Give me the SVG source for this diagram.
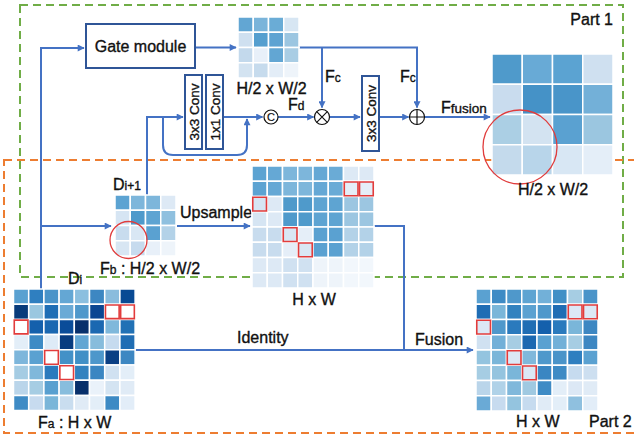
<svg xmlns="http://www.w3.org/2000/svg" width="634" height="439" viewBox="0 0 634 439">
<style>
text{font-family:"Liberation Sans",Arial,sans-serif;font-size:16px;fill:#111;stroke:#111;stroke-width:0.35px}
.sub{font-size:12px}
.grid rect{stroke:#fff;stroke-width:1.5px;vector-effect:non-scaling-stroke}
.grid rect.r{stroke:#e23c3c;stroke-width:1.6px}
.ln{fill:none;stroke:#4472c4;stroke-width:2}
.box{fill:#fff;stroke:#2f5597;stroke-width:2}
.op{fill:#fff;stroke:#111;stroke-width:1.2}
</style>
<defs>
<marker id="ah" viewBox="0 0 10 10" refX="9" refY="5" markerWidth="8" markerHeight="7" markerUnits="userSpaceOnUse" orient="auto">
<path d="M0,0 L10,5 L0,10 z" fill="#4472c4"/>
</marker>
</defs>
<rect width="634" height="439" fill="#fff"/>
<rect id="part1" x="20" y="5" width="603" height="272" fill="none" stroke="#70ad47" stroke-width="2" stroke-dasharray="8,5"/>
<rect id="part2" x="4" y="160" width="640" height="273" fill="none" stroke="#ed7d31" stroke-width="2" stroke-dasharray="8,5"/>
<text x="613" y="25" text-anchor="end">Part 1</text>
<text x="589" y="427">Part 2</text>

<g id="connectors">
<path class="ln" d="M41,289 V48 H84" marker-end="url(#ah)"/>
<path class="ln" d="M41,226 H111" marker-end="url(#ah)"/>
<path class="ln" d="M195,47.5 H236" marker-end="url(#ah)"/>
<path class="ln" d="M299,47.5 H417 V107.5" marker-end="url(#ah)"/>
<path class="ln" d="M322,47.5 V107.5" marker-end="url(#ah)"/>
<path class="ln" d="M147,195 V117 H183" marker-end="url(#ah)"/>
<path class="ln" d="M163,117 V145 Q163,155 173,155 H237 Q247,155 247,145 V119" marker-end="url(#ah)"/>
<path class="ln" d="M224,117 H262.5" marker-end="url(#ah)"/>
<path class="ln" d="M278,117 H313.5" marker-end="url(#ah)"/>
<path class="ln" d="M330,117 H360" marker-end="url(#ah)"/>
<path class="ln" d="M379,117 H408.5" marker-end="url(#ah)"/>
<path class="ln" d="M425,117 H490" marker-end="url(#ah)"/>
<path class="ln" d="M177,226 H250" marker-end="url(#ah)"/>
<path class="ln" d="M374,226 H404 V350"/>
<path class="ln" d="M135,350 H473" marker-end="url(#ah)"/>
</g>

<g id="gate-module">
<rect class="box" x="86" y="24" width="109" height="44"/>
<text x="140.5" y="51.5" text-anchor="middle">Gate module</text>
</g>

<g id="gate-output">
<g class="grid" transform="translate(238,17) scale(15.25)">
<rect x="0" y="0" width="1" height="1" fill="#62a6d3"/><rect x="1" y="0" width="1" height="1" fill="#7ab4da"/><rect x="2" y="0" width="1" height="1" fill="#6aacd6"/><rect x="3" y="0" width="1" height="1" fill="#d7e6f3"/>
<rect x="0" y="1" width="1" height="1" fill="#cfe0f0"/><rect x="1" y="1" width="1" height="1" fill="#559fcf"/><rect x="2" y="1" width="1" height="1" fill="#5ea3d2"/><rect x="3" y="1" width="1" height="1" fill="#9cc6e1"/>
<rect x="0" y="2" width="1" height="1" fill="#c3d9ec"/><rect x="1" y="2" width="1" height="1" fill="#e8f0f9"/><rect x="2" y="2" width="1" height="1" fill="#62a6d3"/><rect x="3" y="2" width="1" height="1" fill="#a9cde4"/>
<rect x="0" y="3" width="1" height="1" fill="#d3e3f1"/><rect x="1" y="3" width="1" height="1" fill="#c6dbed"/><rect x="2" y="3" width="1" height="1" fill="#e3edf7"/><rect x="3" y="3" width="1" height="1" fill="#eef4fa"/>
</g>
<text x="271.5" y="94" text-anchor="middle">H/2 x W/2</text>
</g>

<g id="conv3x3-a">
<rect class="box" x="185" y="75" width="17" height="74"/>
<text transform="translate(198.5,112) rotate(-90)" text-anchor="middle" style="font-size:13.5px">3x3 Conv</text>
</g>
<g id="conv1x1">
<rect class="box" x="206" y="75" width="17" height="74"/>
<text transform="translate(219.5,112) rotate(-90)" text-anchor="middle" style="font-size:13.5px">1x1 Conv</text>
</g>

<g id="concat">
<circle class="op" cx="271" cy="117" r="7"/>
<text x="271" y="121" text-anchor="middle" style="font-size:11px;stroke-width:0.2px">C</text>
</g>
<text x="288" y="110">F<tspan class="sub">d</tspan></text>

<g id="multiply">
<circle class="op" cx="322" cy="117" r="7.5"/>
<path d="M316.7,111.7 L327.3,122.3 M327.3,111.7 L316.7,122.3" stroke="#111" stroke-width="1.2"/>
</g>
<text x="325" y="82">F<tspan class="sub">c</tspan></text>

<g id="conv3x3-b">
<rect class="box" x="362" y="76" width="17" height="75"/>
<text transform="translate(375.5,113.5) rotate(-90)" text-anchor="middle" style="font-size:13.5px">3x3 Conv</text>
</g>

<g id="add">
<circle class="op" cx="417" cy="117" r="7.5"/>
<path d="M409.5,117 H424.5 M417,109.5 V124.5" stroke="#111" stroke-width="1.2"/>
</g>
<text x="400" y="82">F<tspan class="sub">c</tspan></text>
<text x="441" y="113">F<tspan style="font-size:13.5px">fusion</tspan></text>

<g id="fusion-output">
<g class="grid" transform="translate(492,54) scale(30.25)">
<rect x="0" y="0" width="1" height="1" fill="#4f9acb"/><rect x="1" y="0" width="1" height="1" fill="#68aad6"/><rect x="2" y="0" width="1" height="1" fill="#5ba3d2"/><rect x="3" y="0" width="1" height="1" fill="#cfe0f0"/>
<rect x="0" y="1" width="1" height="1" fill="#c9dcee"/><rect x="1" y="1" width="1" height="1" fill="#4592c7"/><rect x="2" y="1" width="1" height="1" fill="#4995c9"/><rect x="3" y="1" width="1" height="1" fill="#73b0d8"/>
<rect x="0" y="2" width="1" height="1" fill="#abcfe4"/><rect x="1" y="2" width="1" height="1" fill="#d3e3f1"/><rect x="2" y="2" width="1" height="1" fill="#5aa1d1"/><rect x="3" y="2" width="1" height="1" fill="#9bc6e0"/>
<rect x="0" y="3" width="1" height="1" fill="#c4daec"/><rect x="1" y="3" width="1" height="1" fill="#b8d5ea"/><rect x="2" y="3" width="1" height="1" fill="#d8e7f4"/><rect x="3" y="3" width="1" height="1" fill="#e4eef8"/>
</g>
<circle cx="520" cy="147" r="37" fill="none" stroke="#e03c3c" stroke-width="1.3"/>
<text x="553" y="195" text-anchor="middle">H/2 x W/2</text>
</g>

<g id="Fb">
<text x="113" y="190">D<tspan class="sub">i+1</tspan></text>
<g class="grid" transform="translate(115,195) scale(15.25)">
<rect x="0" y="0" width="1" height="1" fill="#5ca3d2"/><rect x="1" y="0" width="1" height="1" fill="#7db6db"/><rect x="2" y="0" width="1" height="1" fill="#7db6db"/><rect x="3" y="0" width="1" height="1" fill="#dde9f5"/>
<rect x="0" y="1" width="1" height="1" fill="#d6e5f3"/><rect x="1" y="1" width="1" height="1" fill="#4f9acb"/><rect x="2" y="1" width="1" height="1" fill="#5ea4d2"/><rect x="3" y="1" width="1" height="1" fill="#8fc0df"/>
<rect x="0" y="2" width="1" height="1" fill="#c8dcee"/><rect x="1" y="2" width="1" height="1" fill="#d9e7f4"/><rect x="2" y="2" width="1" height="1" fill="#5aa1d1"/><rect x="3" y="2" width="1" height="1" fill="#b3d2e8"/>
<rect x="0" y="3" width="1" height="1" fill="#d8e6f3"/><rect x="1" y="3" width="1" height="1" fill="#c7dbee"/><rect x="2" y="3" width="1" height="1" fill="#e8f0f9"/><rect x="3" y="3" width="1" height="1" fill="#eef4fa"/>
</g>
<circle cx="128.5" cy="240" r="18.5" fill="none" stroke="#e03c3c" stroke-width="1.3"/>
<text x="100" y="274">F<tspan class="sub">b</tspan> : H/2 x W/2</text>
</g>
<text x="180" y="218">Upsample</text>

<g id="upsampled">
<g class="grid" transform="translate(252,166) scale(15.25)">
<rect x="0" y="0" width="1" height="1" fill="#5ca3d2"/><rect x="1" y="0" width="1" height="1" fill="#65a8d5"/><rect x="2" y="0" width="1" height="1" fill="#7db6db"/><rect x="3" y="0" width="1" height="1" fill="#7db6db"/><rect x="4" y="0" width="1" height="1" fill="#65a8d5"/><rect x="5" y="0" width="1" height="1" fill="#6aabd6"/><rect x="6" y="0" width="1" height="1" fill="#dde9f5"/><rect x="7" y="0" width="1" height="1" fill="#dde9f5"/>
<rect x="0" y="1" width="1" height="1" fill="#5ca3d2"/><rect x="1" y="1" width="1" height="1" fill="#65a8d5"/><rect x="2" y="1" width="1" height="1" fill="#7db6db"/><rect x="3" y="1" width="1" height="1" fill="#7db6db"/><rect x="4" y="1" width="1" height="1" fill="#65a8d5"/><rect x="5" y="1" width="1" height="1" fill="#6aabd6"/><rect x="6" y="1" width="1" height="1" fill="#e5eef8"/><rect x="7" y="1" width="1" height="1" fill="#e5eef8"/>
<rect x="0" y="2" width="1" height="1" fill="#d6e5f3"/><rect x="1" y="2" width="1" height="1" fill="#dde9f5"/><rect x="2" y="2" width="1" height="1" fill="#4f9acb"/><rect x="3" y="2" width="1" height="1" fill="#4f9acb"/><rect x="4" y="2" width="1" height="1" fill="#5ea4d2"/><rect x="5" y="2" width="1" height="1" fill="#5ea4d2"/><rect x="6" y="2" width="1" height="1" fill="#9cc6e1"/><rect x="7" y="2" width="1" height="1" fill="#9cc6e1"/>
<rect x="0" y="3" width="1" height="1" fill="#d6e5f3"/><rect x="1" y="3" width="1" height="1" fill="#dde9f5"/><rect x="2" y="3" width="1" height="1" fill="#4f9acb"/><rect x="3" y="3" width="1" height="1" fill="#4f9acb"/><rect x="4" y="3" width="1" height="1" fill="#5ea4d2"/><rect x="5" y="3" width="1" height="1" fill="#5ea4d2"/><rect x="6" y="3" width="1" height="1" fill="#9cc6e1"/><rect x="7" y="3" width="1" height="1" fill="#9cc6e1"/>
<rect x="0" y="4" width="1" height="1" fill="#c8dcee"/><rect x="1" y="4" width="1" height="1" fill="#c8dcee"/><rect x="2" y="4" width="1" height="1" fill="#d9e7f4"/><rect x="3" y="4" width="1" height="1" fill="#e5eef8"/><rect x="4" y="4" width="1" height="1" fill="#5aa1d1"/><rect x="5" y="4" width="1" height="1" fill="#5aa1d1"/><rect x="6" y="4" width="1" height="1" fill="#b3d2e8"/><rect x="7" y="4" width="1" height="1" fill="#b3d2e8"/>
<rect x="0" y="5" width="1" height="1" fill="#c8dcee"/><rect x="1" y="5" width="1" height="1" fill="#c8dcee"/><rect x="2" y="5" width="1" height="1" fill="#e5eef8"/><rect x="3" y="5" width="1" height="1" fill="#d9e7f4"/><rect x="4" y="5" width="1" height="1" fill="#5aa1d1"/><rect x="5" y="5" width="1" height="1" fill="#5aa1d1"/><rect x="6" y="5" width="1" height="1" fill="#b3d2e8"/><rect x="7" y="5" width="1" height="1" fill="#b3d2e8"/>
<rect x="0" y="6" width="1" height="1" fill="#dde9f5"/><rect x="1" y="6" width="1" height="1" fill="#dde9f5"/><rect x="2" y="6" width="1" height="1" fill="#d0e1f1"/><rect x="3" y="6" width="1" height="1" fill="#d0e1f1"/><rect x="4" y="6" width="1" height="1" fill="#eef4fa"/><rect x="5" y="6" width="1" height="1" fill="#eef4fa"/><rect x="6" y="6" width="1" height="1" fill="#f2f7fc"/><rect x="7" y="6" width="1" height="1" fill="#f2f7fc"/>
<rect x="0" y="7" width="1" height="1" fill="#dde9f5"/><rect x="1" y="7" width="1" height="1" fill="#dde9f5"/><rect x="2" y="7" width="1" height="1" fill="#d0e1f1"/><rect x="3" y="7" width="1" height="1" fill="#d0e1f1"/><rect x="4" y="7" width="1" height="1" fill="#eef4fa"/><rect x="5" y="7" width="1" height="1" fill="#eef4fa"/><rect x="6" y="7" width="1" height="1" fill="#f2f7fc"/><rect x="7" y="7" width="1" height="1" fill="#f2f7fc"/>
<rect class="r" x="6.05" y="1.05" width="0.9" height="0.9" fill="#e5eef8"/><rect class="r" x="7.05" y="1.05" width="0.9" height="0.9" fill="#e5eef8"/><rect class="r" x="0.05" y="2.05" width="0.9" height="0.9" fill="#d6e5f3"/><rect class="r" x="2.05" y="4.05" width="0.9" height="0.9" fill="#d9e7f4"/><rect class="r" x="3.05" y="5.05" width="0.9" height="0.9" fill="#d9e7f4"/>
</g>
<text x="314" y="305" text-anchor="middle">H x W</text>
</g>

<g id="Fa">
<text x="68" y="284">D<tspan class="sub">i</tspan></text>
<g class="grid" transform="translate(13.5,289) scale(15.2)">
<rect x="0" y="0" width="1" height="1" fill="#5aa1d1"/><rect x="1" y="0" width="1" height="1" fill="#2f7fc0"/><rect x="2" y="0" width="1" height="1" fill="#4a94c9"/><rect x="3" y="0" width="1" height="1" fill="#64a7d4"/><rect x="4" y="0" width="1" height="1" fill="#8bbfdf"/><rect x="5" y="0" width="1" height="1" fill="#3d87c2"/><rect x="6" y="0" width="1" height="1" fill="#8abcdd"/><rect x="7" y="0" width="1" height="1" fill="#084a94"/>
<rect x="0" y="1" width="1" height="1" fill="#083b7b"/><rect x="1" y="1" width="1" height="1" fill="#9ac7e0"/><rect x="2" y="1" width="1" height="1" fill="#1f6eb5"/><rect x="3" y="1" width="1" height="1" fill="#6aaad6"/><rect x="4" y="1" width="1" height="1" fill="#4f98cb"/><rect x="5" y="1" width="1" height="1" fill="#0b4692"/><rect x="6" y="1" width="1" height="1" fill="#fff"/><rect x="7" y="1" width="1" height="1" fill="#fff"/>
<rect x="0" y="2" width="1" height="1" fill="#fff"/><rect x="1" y="2" width="1" height="1" fill="#1460ac"/><rect x="2" y="2" width="1" height="1" fill="#1b68b1"/><rect x="3" y="2" width="1" height="1" fill="#0a4c99"/><rect x="4" y="2" width="1" height="1" fill="#08306b"/><rect x="5" y="2" width="1" height="1" fill="#1b68b1"/><rect x="6" y="2" width="1" height="1" fill="#7fb8db"/><rect x="7" y="2" width="1" height="1" fill="#2171b5"/>
<rect x="0" y="3" width="1" height="1" fill="#e3eef8"/><rect x="1" y="3" width="1" height="1" fill="#3e8bc5"/><rect x="2" y="3" width="1" height="1" fill="#deebf7"/><rect x="3" y="3" width="1" height="1" fill="#083c80"/><rect x="4" y="3" width="1" height="1" fill="#63a6d3"/><rect x="5" y="3" width="1" height="1" fill="#87bcdc"/><rect x="6" y="3" width="1" height="1" fill="#c6dbef"/><rect x="7" y="3" width="1" height="1" fill="#1f6db4"/>
<rect x="0" y="4" width="1" height="1" fill="#7db6db"/><rect x="1" y="4" width="1" height="1" fill="#5aa1d1"/><rect x="2" y="4" width="1" height="1" fill="#fff"/><rect x="3" y="4" width="1" height="1" fill="#4391c7"/><rect x="4" y="4" width="1" height="1" fill="#4190c6"/><rect x="5" y="4" width="1" height="1" fill="#4d97cb"/><rect x="6" y="4" width="1" height="1" fill="#0a3f84"/><rect x="7" y="4" width="1" height="1" fill="#3d87c2"/>
<rect x="0" y="5" width="1" height="1" fill="#a5cce3"/><rect x="1" y="5" width="1" height="1" fill="#80b8db"/><rect x="2" y="5" width="1" height="1" fill="#2a7abd"/><rect x="3" y="5" width="1" height="1" fill="#fff"/><rect x="4" y="5" width="1" height="1" fill="#3282bf"/><rect x="5" y="5" width="1" height="1" fill="#3a86c2"/><rect x="6" y="5" width="1" height="1" fill="#d0e1f1"/><rect x="7" y="5" width="1" height="1" fill="#e3eef8"/>
<rect x="0" y="6" width="1" height="1" fill="#bad5ea"/><rect x="1" y="6" width="1" height="1" fill="#a6cde3"/><rect x="2" y="6" width="1" height="1" fill="#58a0d0"/><rect x="3" y="6" width="1" height="1" fill="#88bddd"/><rect x="4" y="6" width="1" height="1" fill="#08306b"/><rect x="5" y="6" width="1" height="1" fill="#eaf2fa"/><rect x="6" y="6" width="1" height="1" fill="#d4e4f2"/><rect x="7" y="6" width="1" height="1" fill="#e0ebf6"/>
<rect x="0" y="7" width="1" height="1" fill="#3e8bc5"/><rect x="1" y="7" width="1" height="1" fill="#c7dbef"/><rect x="2" y="7" width="1" height="1" fill="#7ab6d9"/><rect x="3" y="7" width="1" height="1" fill="#c9ddef"/><rect x="4" y="7" width="1" height="1" fill="#e0ebf6"/><rect x="5" y="7" width="1" height="1" fill="#e3eef8"/><rect x="6" y="7" width="1" height="1" fill="#3d8ac4"/><rect x="7" y="7" width="1" height="1" fill="#e2edf8"/>
<rect class="r" x="6.05" y="1.05" width="0.9" height="0.9" fill="#fff"/><rect class="r" x="7.05" y="1.05" width="0.9" height="0.9" fill="#fff"/><rect class="r" x="0.05" y="2.05" width="0.9" height="0.9" fill="#fff"/><rect class="r" x="2.05" y="4.05" width="0.9" height="0.9" fill="#fff"/><rect class="r" x="3.05" y="5.05" width="0.9" height="0.9" fill="#fff"/>
</g>
<text x="38" y="428">F<tspan class="sub">a</tspan> : H x W</text>
</g>
<text x="237" y="343">Identity</text>
<text x="415" y="345">Fusion</text>

<g id="fused">
<g class="grid" transform="translate(476,289) scale(15.25)">
<rect x="0" y="0" width="1" height="1" fill="#5aa1d1"/><rect x="1" y="0" width="1" height="1" fill="#3e8bc5"/><rect x="2" y="0" width="1" height="1" fill="#4f98cb"/><rect x="3" y="0" width="1" height="1" fill="#5ea4d2"/><rect x="4" y="0" width="1" height="1" fill="#72b0d8"/><rect x="5" y="0" width="1" height="1" fill="#4190c6"/><rect x="6" y="0" width="1" height="1" fill="#a6cde3"/><rect x="7" y="0" width="1" height="1" fill="#4a94c9"/>
<rect x="0" y="1" width="1" height="1" fill="#1f6db4"/><rect x="1" y="1" width="1" height="1" fill="#7ab6d9"/><rect x="2" y="1" width="1" height="1" fill="#3282bf"/><rect x="3" y="1" width="1" height="1" fill="#5aa1d1"/><rect x="4" y="1" width="1" height="1" fill="#4f98cb"/><rect x="5" y="1" width="1" height="1" fill="#1f6db4"/><rect x="6" y="1" width="1" height="1" fill="#dce8f5"/><rect x="7" y="1" width="1" height="1" fill="#dce8f5"/>
<rect x="0" y="2" width="1" height="1" fill="#dce8f5"/><rect x="1" y="2" width="1" height="1" fill="#4f98cb"/><rect x="2" y="2" width="1" height="1" fill="#2a7abd"/><rect x="3" y="2" width="1" height="1" fill="#1f6db4"/><rect x="4" y="2" width="1" height="1" fill="#1460ac"/><rect x="5" y="2" width="1" height="1" fill="#2a7abd"/><rect x="6" y="2" width="1" height="1" fill="#7ab6d9"/><rect x="7" y="2" width="1" height="1" fill="#3d87c2"/>
<rect x="0" y="3" width="1" height="1" fill="#d0e1f1"/><rect x="1" y="3" width="1" height="1" fill="#72b0d8"/><rect x="2" y="3" width="1" height="1" fill="#a6cde3"/><rect x="3" y="3" width="1" height="1" fill="#1b68b1"/><rect x="4" y="3" width="1" height="1" fill="#5aa1d1"/><rect x="5" y="3" width="1" height="1" fill="#72b0d8"/><rect x="6" y="3" width="1" height="1" fill="#a6cde3"/><rect x="7" y="3" width="1" height="1" fill="#3d87c2"/>
<rect x="0" y="4" width="1" height="1" fill="#94c4df"/><rect x="1" y="4" width="1" height="1" fill="#7ab6d9"/><rect x="2" y="4" width="1" height="1" fill="#dce8f5"/><rect x="3" y="4" width="1" height="1" fill="#80b8db"/><rect x="4" y="4" width="1" height="1" fill="#4f98cb"/><rect x="5" y="4" width="1" height="1" fill="#4a94c9"/><rect x="6" y="4" width="1" height="1" fill="#2f7fc0"/><rect x="7" y="4" width="1" height="1" fill="#5aa1d1"/>
<rect x="0" y="5" width="1" height="1" fill="#a6cde3"/><rect x="1" y="5" width="1" height="1" fill="#94c4df"/><rect x="2" y="5" width="1" height="1" fill="#7ab6d9"/><rect x="3" y="5" width="1" height="1" fill="#dce8f5"/><rect x="4" y="5" width="1" height="1" fill="#3a86c2"/><rect x="5" y="5" width="1" height="1" fill="#3e8bc5"/><rect x="6" y="5" width="1" height="1" fill="#c6dbef"/><rect x="7" y="5" width="1" height="1" fill="#cddff0"/>
<rect x="0" y="6" width="1" height="1" fill="#bad5ea"/><rect x="1" y="6" width="1" height="1" fill="#b0d2e8"/><rect x="2" y="6" width="1" height="1" fill="#80b8db"/><rect x="3" y="6" width="1" height="1" fill="#a0c9e1"/><rect x="4" y="6" width="1" height="1" fill="#3e8bc5"/><rect x="5" y="6" width="1" height="1" fill="#e3eef8"/><rect x="6" y="6" width="1" height="1" fill="#dce8f5"/><rect x="7" y="6" width="1" height="1" fill="#e0ebf6"/>
<rect x="0" y="7" width="1" height="1" fill="#6aaad6"/><rect x="1" y="7" width="1" height="1" fill="#c7dbef"/><rect x="2" y="7" width="1" height="1" fill="#94c4df"/><rect x="3" y="7" width="1" height="1" fill="#c6dbef"/><rect x="4" y="7" width="1" height="1" fill="#e0ebf6"/><rect x="5" y="7" width="1" height="1" fill="#e3eef8"/><rect x="6" y="7" width="1" height="1" fill="#8fc0df"/><rect x="7" y="7" width="1" height="1" fill="#e2edf8"/>
<rect class="r" x="6.05" y="1.05" width="0.9" height="0.9" fill="#dce8f5"/><rect class="r" x="7.05" y="1.05" width="0.9" height="0.9" fill="#dce8f5"/><rect class="r" x="0.05" y="2.05" width="0.9" height="0.9" fill="#dce8f5"/><rect class="r" x="2.05" y="4.05" width="0.9" height="0.9" fill="#dce8f5"/><rect class="r" x="3.05" y="5.05" width="0.9" height="0.9" fill="#dce8f5"/>
</g>
<text x="516" y="427">H x W</text>
</g>
</svg>
